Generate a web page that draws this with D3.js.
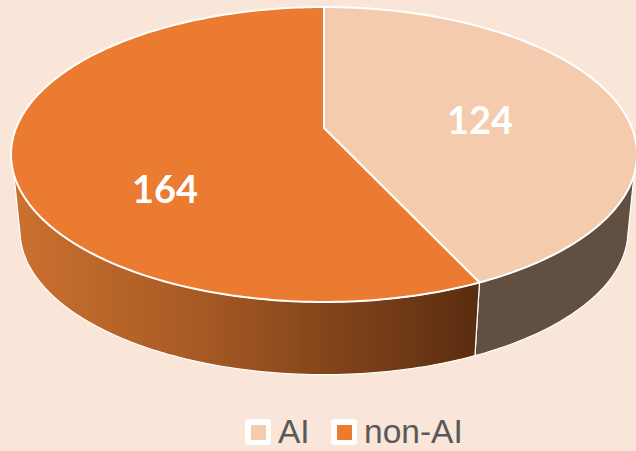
<!DOCTYPE html>
<html>
<head>
<meta charset="utf-8">
<script src="https://cdn.jsdelivr.net/npm/d3@7"></script>
<style>
  html, body { margin: 0; padding: 0; background: #fae6d9; overflow: hidden; }
</style>
</head>
<body>
<svg id="chart" width="636" height="451"></svg>
<script>
const categories = ["AI", "non-AI"];
const values = [124, 164];
const topColors = ["#f5cbad", "#eb7b31"];

const svg = d3.select("#chart");
const defs = svg.append("defs");

const grad = defs.append("linearGradient")
    .attr("id", "sideGrad")
    .attr("gradientUnits", "userSpaceOnUse")
    .attr("x1", 12).attr("x2", 478).attr("y1", 0).attr("y2", 0);
grad.append("stop").attr("offset", 0).attr("stop-color", "#cc7130");
grad.append("stop").attr("offset", 0.4).attr("stop-color", "#a75a24");
grad.append("stop").attr("offset", 1).attr("stop-color", "#5a2d10");
const sideColors = ["#615042", "url(#sideGrad)"];

// the pie is tilted with perspective, so the apex is not the ellipse centre
const tilt = 0.1797;
function project(angle, plane, r = 1) {
    const u = Math.sin(angle) * r, v = -Math.cos(angle) * r;
    const w = 1 - tilt * v;
    return [plane.cx + plane.sx * u / w, plane.cy + plane.sy * v / w];
}
const topPlane = { cx: 324, cy: 128, sx: 307.9, sy: 142.7 };
const bottomPlane = { cx: 324, cy: 205, sx: 299, sy: 139.2 };

const arcs = d3.pie().sort(null)(values);
const rad = d => d * Math.PI / 180;
const line = d3.line();

function arcPoints(a0, a1, plane) {
    const n = Math.max(2, Math.ceil(Math.abs(a1 - a0) / rad(1)));
    return d3.range(n + 1).map(i => project(a0 + (a1 - a0) * i / n, plane));
}

// silhouette angles of the side wall, top rim and bottom rim differ a little
const topRight = rad(108), topLeft = rad(252), botRight = rad(102), botLeft = rad(258);

// side walls
arcs.forEach((d, i) => {
    const t0 = Math.max(d.startAngle, topRight), t1 = Math.min(d.endAngle, topLeft);
    const b0 = Math.max(d.startAngle, botRight), b1 = Math.min(d.endAngle, botLeft);
    const pts = arcPoints(t0, t1, topPlane).concat(arcPoints(b1, b0, bottomPlane));
    svg.append("path")
        .attr("d", line(pts) + "Z")
        .attr("fill", sideColors[i])
        .attr("stroke", "#fff")
        .attr("stroke-width", 1.2)
        .attr("stroke-linejoin", "round");
});

// top faces
arcs.forEach((d, i) => {
    const pts = [[topPlane.cx, topPlane.cy]].concat(arcPoints(d.startAngle, d.endAngle, topPlane));
    svg.append("path")
        .attr("d", line(pts) + "Z")
        .attr("fill", topColors[i])
        .attr("stroke", "#fff")
        .attr("stroke-width", 2)
        .attr("stroke-linejoin", "round");
});

// value labels
const labelPos = [[480, 134], [165, 203]];
values.forEach((v, i) => {
    svg.append("text")
        .attr("x", labelPos[i][0])
        .attr("y", labelPos[i][1])
        .attr("text-anchor", "middle")
        .attr("font-family", "Lato, 'Open Sans', sans-serif")
        .attr("font-weight", 700)
        .attr("font-size", 38)
        .attr("fill", "#fff")
        .text(v);
});

// legend
const legendX = [245, 331];
categories.forEach((c, i) => {
    const g = svg.append("g").attr("transform", `translate(${legendX[i]},419)`);
    g.append("rect")
        .attr("width", 26).attr("height", 26).attr("rx", 3)
        .attr("fill", "#fff");
    g.append("rect")
        .attr("x", 6).attr("y", 6).attr("width", 15).attr("height", 15)
        .attr("fill", topColors[i]);
    g.append("text")
        .attr("x", 33)
        .attr("y", 24)
        .attr("font-family", "'Liberation Sans', sans-serif")
        .attr("font-size", 33.5)
        .attr("fill", "#595959")
        .text(c);
});
</script>
</body>
</html>
